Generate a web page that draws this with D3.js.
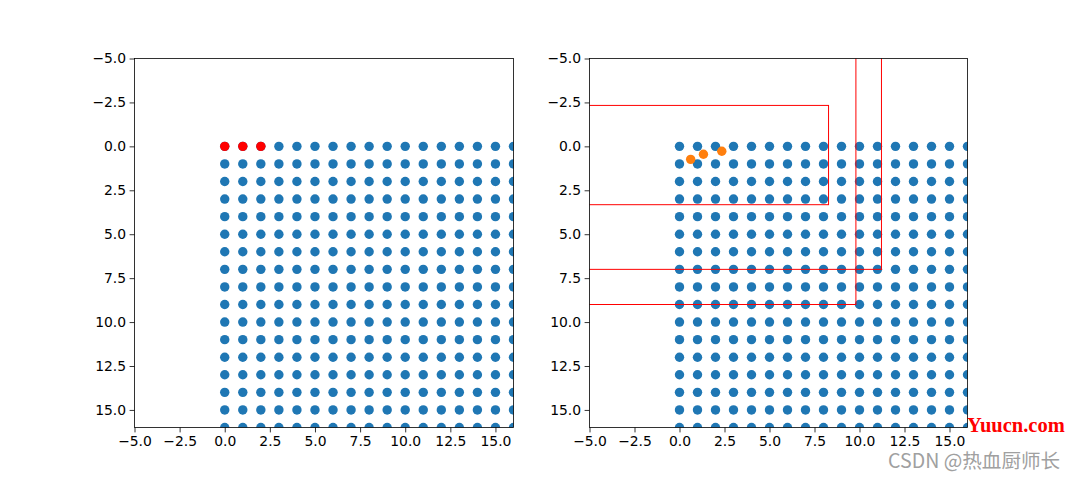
<!DOCTYPE html>
<html><head><meta charset="utf-8">
<script src="https://cdn.jsdelivr.net/npm/d3@7"></script>
<style>body{margin:0;background:#fff}svg{display:block}</style>
</head><body>
<svg id="c" width="1075" height="480"></svg>
<script>
// Data
const gridX = d3.range(0, 17);           // 0..16
const gridY = d3.range(0, 17);           // 0..16
const redPts = [[0,0],[1,0],[2,0]];
const orangePts = [[0.62,0.74],[1.33,0.45],[2.35,0.28]];
// rectangles: [x0, y0, x1, y1] (left/top beyond the view)
const rects = [[-6,-2.33,8.28,3.32],[-6,-6,11.22,7.0],[-6,-6,9.8,9.0]];
const xTicks = [-5,-2.5,0,2.5,5,7.5,10,12.5,15];
const yTicks = [-5,-2.5,0,2.5,5,7.5,10,12.5,15];
const xDomain = [-5,16], yDomain = [-5,16];

const svg = d3.select("#c");
const fmt = v => d3.format(".1f")(v).replace("-", "\u2212");
const panels = [{x0:134.5,x1:513.5,id:"L"},{x0:589.5,x1:967.5,id:"R"}];
const axTop = 58.5, axBottom = 427.5;
const R = 4.7;

panels.forEach((p,i)=>{
  const x = d3.scaleLinear().domain(xDomain).range([p.x0,p.x1]);
  const y = d3.scaleLinear().domain(yDomain).range([axTop,axBottom]);
  svg.append("clipPath").attr("id","clip"+p.id).append("rect")
    .attr("x",p.x0).attr("y",axTop).attr("width",p.x1-p.x0).attr("height",axBottom-axTop);
  const g = svg.append("g").attr("clip-path",`url(#clip${p.id})`);
  const pts = [];
  gridY.forEach(yy=>gridX.forEach(xx=>pts.push([xx,yy])));
  g.selectAll("circle.b").data(pts).enter().append("circle")
    .attr("cx",d=>x(d[0])).attr("cy",d=>y(d[1])).attr("r",R).attr("fill","#1f77b4");
  if(i===0){
    g.selectAll("circle.r").data(redPts).enter().append("circle")
      .attr("cx",d=>x(d[0])).attr("cy",d=>y(d[1])).attr("r",R).attr("fill","#ff0000");
  } else {
    g.selectAll("rect.bx").data(rects).enter().append("rect")
      .attr("x",d=>x(d[0])).attr("y",d=>y(d[1]))
      .attr("width",d=>x(d[2])-x(d[0])).attr("height",d=>y(d[3])-y(d[1]))
      .attr("fill","none").attr("stroke","#ff0000").attr("stroke-width",1);
    g.selectAll("circle.o").data(orangePts).enter().append("circle")
      .attr("cx",d=>x(d[0])).attr("cy",d=>y(d[1])).attr("r",R).attr("fill","#ff7f0e");
  }
  const xa = svg.append("g").attr("transform",`translate(0,${axBottom})`)
    .call(d3.axisBottom(x).tickValues(xTicks).tickFormat(fmt).tickSizeOuter(0).tickSize(4.9).tickPadding(3.5));
  const ya = svg.append("g").attr("transform",`translate(${p.x0},0)`)
    .call(d3.axisLeft(y).tickValues(yTicks).tickFormat(fmt).tickSizeOuter(0).tickSize(4.9).tickPadding(3.5));
  [xa,ya].forEach(a=>{
    a.select(".domain").remove();
    a.selectAll("text").attr("font-family","DejaVu Sans").attr("font-size","13.9px").attr("fill","#000");
    a.selectAll("line").attr("stroke","#000").attr("stroke-width",0.8);
  });
  svg.append("rect").attr("x",p.x0).attr("y",axTop).attr("width",p.x1-p.x0).attr("height",axBottom-axTop)
    .attr("fill","none").attr("stroke","#000").attr("stroke-width",0.8);
});

svg.append("text").attr("x",967).attr("y",432).text("Yuucn.com")
  .attr("font-family","Liberation Serif").attr("font-size","20.5px").attr("font-weight","bold").attr("fill","#ff0000");
svg.append("text").attr("x",888).attr("y",468).text("CSDN @热血厨师长")
  .attr("font-family","Noto Sans CJK SC").attr("font-size","19.6px").attr("fill","#a0a0a0");
</script>
</body></html>
